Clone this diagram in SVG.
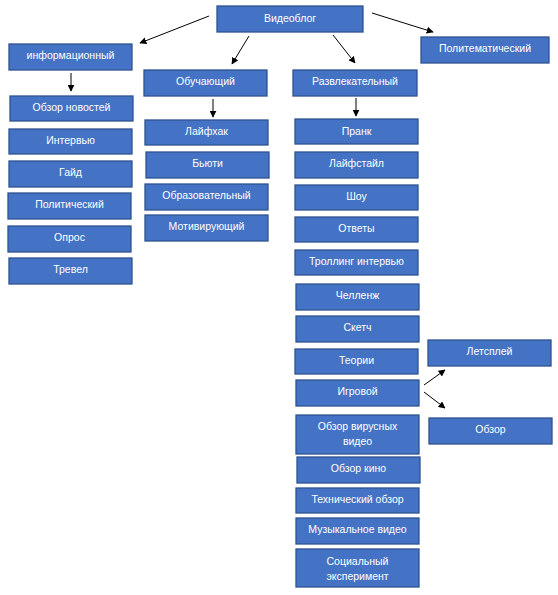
<svg xmlns="http://www.w3.org/2000/svg" width="558" height="595" viewBox="0 0 558 595">
<style>
.n rect{fill:#4472C4;stroke:#2F528F;stroke-width:1.3}
.n text{fill:#fff;font-family:"Liberation Sans",Arial,sans-serif;font-size:10.5px;text-anchor:middle;dominant-baseline:central}
.c line{stroke:#000;stroke-width:1;marker-end:url(#a)}
</style>
<defs>
<marker id="a" viewBox="0 0 10 10" refX="9" refY="5" markerWidth="7" markerHeight="7" markerUnits="userSpaceOnUse" orient="auto">
<path d="M0,0 L10,5 L0,10 z" fill="#000"/>
</marker>
</defs>
<rect width="558" height="595" fill="#fff"/>
<g class="c">
<line x1="209" y1="16" x2="140" y2="43"/>
<line x1="249" y1="36" x2="232" y2="64"/>
<line x1="333" y1="35" x2="355" y2="63"/>
<line x1="372" y1="13" x2="433" y2="32"/>
<line x1="71" y1="73" x2="71" y2="91"/>
<line x1="213" y1="99" x2="213" y2="117"/>
<line x1="356" y1="98" x2="356" y2="116"/>
<line x1="424" y1="385" x2="445" y2="370"/>
<line x1="424" y1="392" x2="445" y2="408"/>
</g>
<g class="n" id="videoblog"><rect x="217" y="6" width="146" height="26"/><text x="290" y="18">Видеоблог</text></g>
<g class="n" id="info"><rect x="9" y="44" width="123" height="26"/><text x="70.5" y="55">информационный</text></g>
<g class="n" id="obuch"><rect x="144" y="70" width="123" height="26"/><text x="205.5" y="81">Обучающий</text></g>
<g class="n" id="razvl"><rect x="293" y="70" width="124" height="26"/><text x="355" y="81">Развлекательный</text></g>
<g class="n" id="polit"><rect x="421" y="37" width="128" height="26"/><text x="485" y="48">Политематический</text></g>

<g class="n" id="news"><rect x="10" y="96" width="123" height="25"/><text x="71.5" y="107">Обзор новостей</text></g>
<g class="n" id="interview"><rect x="9" y="129" width="123" height="25"/><text x="70.5" y="140">Интервью</text></g>
<g class="n" id="guide"><rect x="9" y="161" width="123" height="26"/><text x="70.5" y="172">Гайд</text></g>
<g class="n" id="political"><rect x="8" y="193" width="123" height="26"/><text x="69.5" y="204">Политический</text></g>
<g class="n" id="opros"><rect x="8" y="226" width="123" height="26"/><text x="69.5" y="237">Опрос</text></g>
<g class="n" id="travel"><rect x="9" y="258" width="123" height="26"/><text x="70.5" y="269">Тревел</text></g>

<g class="n" id="lifehack"><rect x="145" y="120" width="123" height="25"/><text x="206.5" y="131">Лайфхак</text></g>
<g class="n" id="beauty"><rect x="146" y="152" width="123" height="26"/><text x="207.5" y="163">Бьюти</text></g>
<g class="n" id="edu"><rect x="145" y="184" width="123" height="26"/><text x="206.5" y="195">Образовательный</text></g>
<g class="n" id="motiv"><rect x="145" y="215" width="123" height="26"/><text x="206.5" y="226">Мотивирующий</text></g>

<g class="n" id="prank"><rect x="295" y="119" width="123" height="25"/><text x="356.5" y="131">Пранк</text></g>
<g class="n" id="lifestyle"><rect x="295" y="152" width="123" height="26"/><text x="356.5" y="163">Лайфстайл</text></g>
<g class="n" id="show"><rect x="295" y="185" width="123" height="25"/><text x="356.5" y="196">Шоу</text></g>
<g class="n" id="answers"><rect x="295" y="217" width="123" height="25"/><text x="356.5" y="228">Ответы</text></g>
<g class="n" id="troll"><rect x="295" y="250" width="123" height="25"/><text x="356.5" y="261">Троллинг интервью</text></g>
<g class="n" id="challenge"><rect x="296" y="284" width="123" height="26"/><text x="357.5" y="295">Челленж</text></g>
<g class="n" id="sketch"><rect x="296" y="316" width="123" height="26"/><text x="357.5" y="327">Скетч</text></g>
<g class="n" id="theories"><rect x="295" y="349" width="123" height="25"/><text x="356.5" y="360">Теории</text></g>
<g class="n" id="game"><rect x="296" y="380" width="123" height="26"/><text x="357.5" y="391">Игровой</text></g>
<g class="n" id="viral"><rect x="296" y="415" width="123" height="39"/><text x="357.5" y="426">Обзор вирусных</text><text x="357.5" y="441">видео</text></g>
<g class="n" id="movie"><rect x="297" y="457" width="123" height="26"/><text x="358.5" y="468">Обзор кино</text></g>
<g class="n" id="tech"><rect x="296" y="488" width="123" height="25"/><text x="357.5" y="499">Технический обзор</text></g>
<g class="n" id="music"><rect x="296" y="518" width="123" height="26"/><text x="357.5" y="529">Музыкальное видео</text></g>
<g class="n" id="social"><rect x="296" y="549" width="123" height="38"/><text x="357.5" y="561">Социальный</text><text x="357.5" y="576">эксперимент</text></g>

<g class="n" id="letsplay"><rect x="428" y="340" width="123" height="26"/><text x="489.5" y="351">Летсплей</text></g>
<g class="n" id="review"><rect x="429" y="418" width="123" height="26"/><text x="490.5" y="429">Обзор</text></g>
</svg>
